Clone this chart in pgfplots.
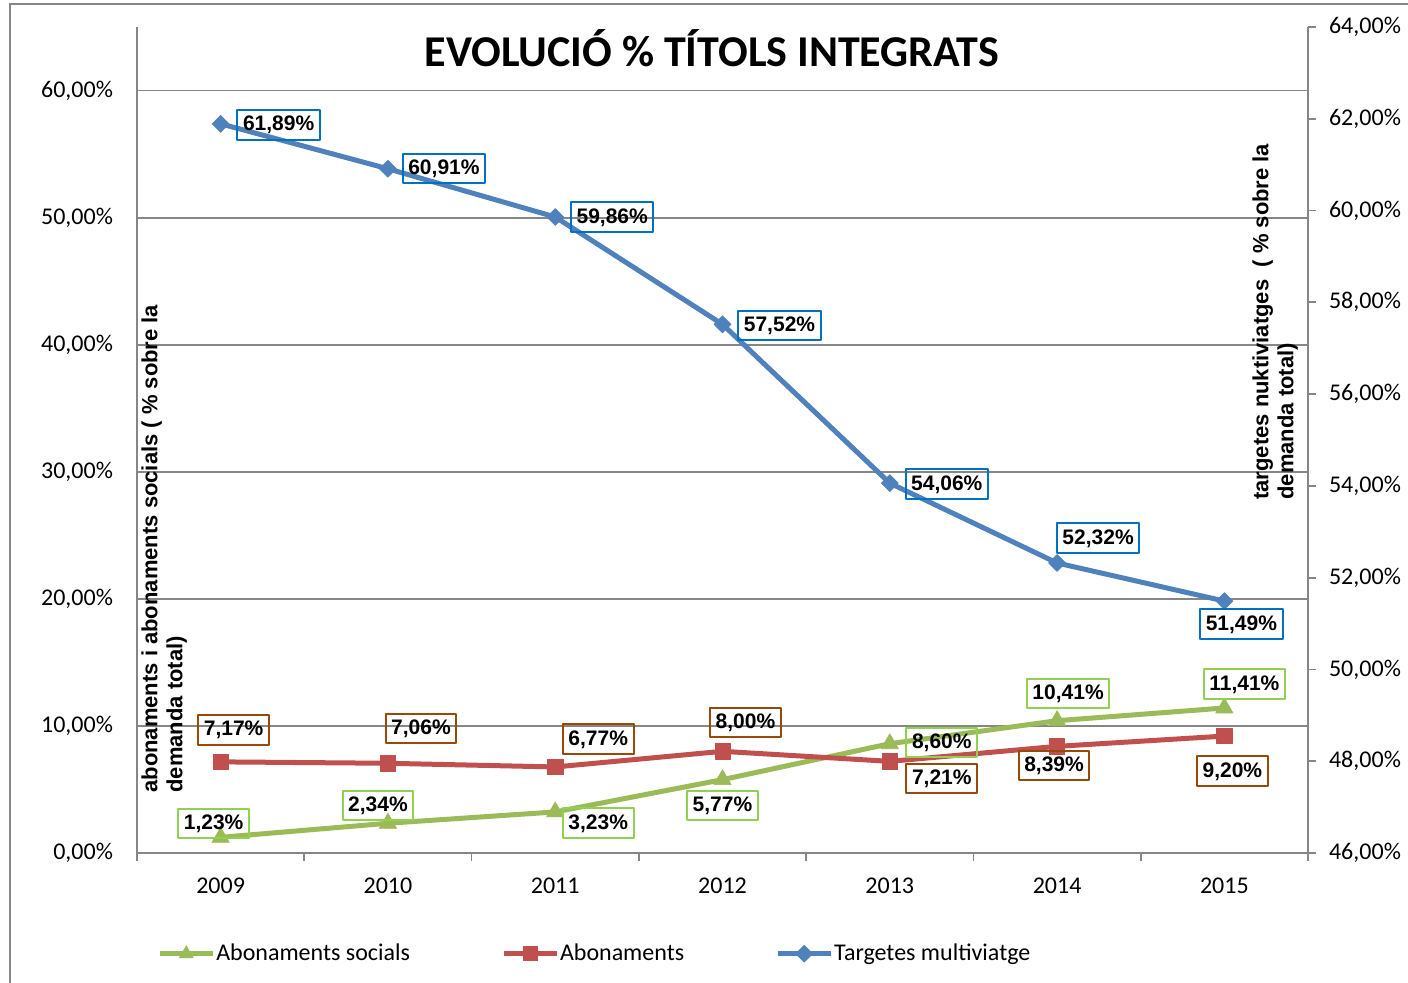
\documentclass[border=0pt]{standalone}
\usepackage{pgfplots}
\pgfplotsset{compat=1.18}
\usepackage{pgfplotstable}
\usepackage{fontspec}
\setmainfont{Carlito}
\newfontfamily\arial{Liberation Sans}
\definecolor{cblue}{HTML}{4F81BD}
\definecolor{cred}{HTML}{C0504D}
\definecolor{cgreen}{HTML}{9BBB59}
\definecolor{bblue}{HTML}{0070C0}
\definecolor{bred}{HTML}{984807}
\definecolor{bgreen}{HTML}{92D050}
\definecolor{agray}{HTML}{868686}

\pgfplotstableread{
x y dx dy
0 1.23 -3.5 7
1 2.34 -5 9
2 3.23 21.5 -5.5
3 5.77 0 -13
4 8.60 26 0.5
5 10.41 5.5 13.5
6 11.41 10 12
}\greendata

\pgfplotstableread{
x y dx dy
0 7.17 6.5 16
1 7.06 16.5 17.5
2 6.77 21.5 14
3 8.00 11.5 14.5
4 7.21 26 -8.5
5 8.39 -1.5 -9.5
6 9.20 4 -17.5
}\reddata

\pgfplotstableread{
x y dx dy
0 61.89 29 -0.5
1 60.91 28 0
2 59.86 28.5 0
3 57.52 28.5 -0.5
4 54.06 28.5 -0.5
5 52.32 20.5 12.5
6 51.49 8.5 -11.5
}\bluedata

\pgfplotsset{
  lbl/.style={
    point meta=y,
    nodes near coords={\pgfmathprintnumber[fixed,fixed zerofill,precision=2,use comma,assume math mode=true]{\pgfplotspointmeta}\%},
    visualization depends on={\thisrow{dx}\as\lblx},
    visualization depends on={\thisrow{dy}\as\lbly},
    every node near coord/.append style={anchor=center, xshift={\lblx*1pt}, yshift={\lbly*1pt},
      draw=#1, line width=1pt, fill=none, text=black,
      font=\arial\bfseries\fontsize{10.5}{12}\selectfont,
      inner xsep=2.8pt, inner ysep=2.8pt, text height=7.6pt, text depth=1.5pt}
  },
  legend image code/.code={\draw[mark repeat=2,mark phase=2,#1] plot coordinates {(0pt,0pt) (13.25pt,0pt) (26.5pt,0pt)};}
}

\begin{document}
\begin{tikzpicture}
\path[use as bounding box] (0,0) rectangle (704pt,491.5pt);
\draw[agray, line width=1pt] (5pt,0pt) -- (5pt,489.5pt) -- (704pt,489.5pt);

\begin{axis}[
  at={(68.5pt,65pt)}, anchor=south west,
  width=585.5pt, height=413pt, scale only axis,
  xmin=-0.5, xmax=6.5, ymin=0, ymax=65,
  axis x line*=bottom, axis y line*=left,
  axis line style={agray, line width=0.9pt},
  xtick={0,...,6}, xticklabels={2009,2010,2011,2012,2013,2014,2015},
  minor xtick={-0.5,0.5,...,6.5},
  major tick length=0pt, minor tick length=4pt, tick align=outside,
  tick style={agray, line width=0.9pt},
  ytick={0,10,...,60},
  yticklabels={{0,00\%},{10,00\%},{20,00\%},{30,00\%},{40,00\%},{50,00\%},{60,00\%}},
  ymajorgrids, grid style={agray, line width=0.9pt},
  tick label style={font=\fontsize{12}{14}\selectfont, text=black},
  /pgf/number format/assume math mode=true,
  xticklabel style={yshift=-9pt},
  yticklabel style={xshift=-8.5pt},
  clip=false,
]
\addplot[cgreen, line width=2.5pt, line join=round, mark=triangle*, mark size=5pt,
  mark options={solid, fill=cgreen, draw=cgreen, line width=0.3pt}, lbl=bgreen]
  table[x=x,y=y] {\greendata};
\addplot[cred, line width=2.5pt, line join=round, mark=square*, mark size=3.8pt,
  mark options={solid, fill=cred, draw=cred, line width=0.3pt}, lbl=bred]
  table[x=x,y=y] {\reddata};
\end{axis}

\begin{axis}[
  at={(68.5pt,65pt)}, anchor=south west,
  width=585.5pt, height=413pt, scale only axis,
  xmin=-0.5, xmax=6.5, ymin=46, ymax=64,
  axis y line*=right, axis x line=none,
  axis line style={agray, line width=0.9pt},
  ytick={46,48,...,64},
  yticklabels={{46,00\%},{48,00\%},{50,00\%},{52,00\%},{54,00\%},{56,00\%},{58,00\%},{60,00\%},{62,00\%},{64,00\%}},
  major tick length=4pt, tick align=outside,
  tick style={agray, line width=0.9pt},
  tick label style={font=\fontsize{12}{14}\selectfont, text=black},
  /pgf/number format/assume math mode=true,
  yticklabel style={xshift=3pt},
  clip=false,
  legend columns=3,
  legend style={at={(0.017,-0.122)}, anchor=west, draw=none, fill=none, inner sep=0pt,
    font=\fontsize{12}{14}\selectfont,
    nodes={inner xsep=0.5pt},
    /tikz/every odd column/.append style={column sep=0pt},
    /tikz/every even column/.append style={column sep=45pt}},
  legend cell align=left,
]
\addlegendimage{cgreen, line width=2.5pt, mark=triangle*, mark size=4pt, mark options={solid, fill=cgreen, draw=cgreen, line width=0.3pt}}
\addlegendentry{Abonaments socials}
\addlegendimage{cred, line width=2.5pt, mark=square*, mark size=3.5pt, mark options={solid, fill=cred, draw=cred, line width=0.3pt}}
\addlegendentry{Abonaments}
\addplot[cblue, line width=2.5pt, line join=round, mark=square*, mark size=3pt,
  mark options={solid, rotate=45, fill=cblue, draw=cblue, line width=0.3pt}, lbl=bblue]
  table[x=x,y=y] {\bluedata};
\addlegendentry{Targetes multiviatge}
\end{axis}

\node[font=\bfseries\fontsize{22}{26}\selectfont] at (356pt,467.5pt) {EVOLUCIÓ \% TÍTOLS INTEGRATS};
\node[rotate=90, anchor=north west, inner sep=0pt, align=left,
  font=\arial\bfseries\fontsize{11}{12.5}\selectfont] at (70.5pt,95pt)
  {abonaments i abonaments socials ( \% sobre la\\demanda total)};
\node[rotate=90, anchor=north west, inner sep=0pt, align=left,
  font=\arial\bfseries\fontsize{11}{12.5}\selectfont] at (626pt,241.5pt)
  {targetes nuktiviatges\ \ ( \% sobre la\\demanda total)};
\end{tikzpicture}
\end{document}
